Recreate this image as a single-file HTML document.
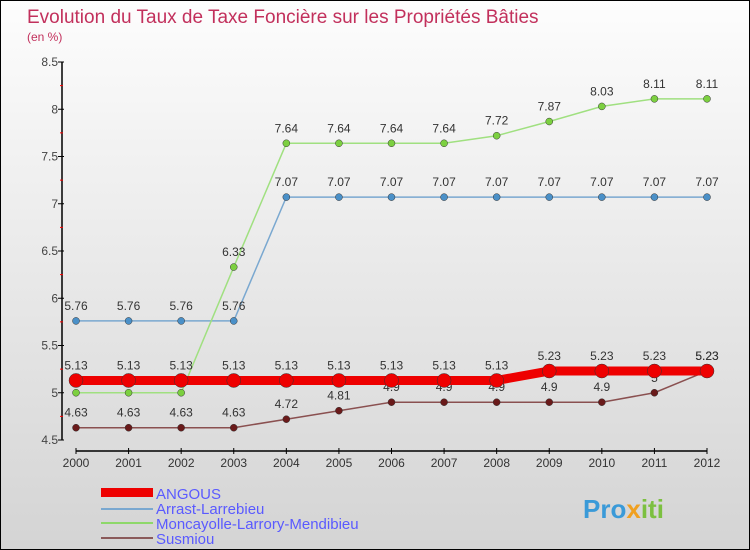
<!DOCTYPE html>
<html><head><meta charset="utf-8"><style>
body{margin:0}
#c{width:750px;height:550px;position:relative;overflow:hidden;box-sizing:border-box;border:1px solid #000;background:linear-gradient(#fdfdfd,#d4d4d4);font-family:"Liberation Sans",sans-serif}
</style></head><body>
<div id="c">
<svg id="s" width="750" height="550" style="position:absolute;left:0;top:0">
<text x="26" y="22" font-size="19" fill="#c2305c">Evolution du Taux de Taxe Foncière sur les Propriétés Bâties</text>
<text x="26" y="40" font-size="12" fill="#c2305c">(en %)</text>
<g id="ax"></g><g id="sr"></g>
<g>
<rect x="100" y="487" width="52" height="9" fill="#e00"/>
<text x="155" y="498" font-size="15" fill="#5a5aff">ANGOUS</text>
<rect x="100" y="507" width="52" height="2" fill="#7aa8d0"/>
<text x="155" y="513" font-size="15" fill="#5a5aff">Arrast-Larrebieu</text>
<rect x="100" y="521" width="52" height="2" fill="#8ed86a"/>
<text x="155" y="528" font-size="15" fill="#5a5aff">Moncayolle-Larrory-Mendibieu</text>
<rect x="100" y="536" width="52" height="2" fill="#8a5a5a"/>
<text x="155" y="543" font-size="15" fill="#5a5aff">Susmiou</text>
</g>
<text x="582" y="517" font-size="26" font-weight="bold" fill="#3a9ad8">Pro<tspan fill="#f0a020">x</tspan><tspan fill="#7cc040">iti</tspan></text>
</svg></div>
<script>
const years=[2000,2001,2002,2003,2004,2005,2006,2007,2008,2009,2010,2011,2012];
const yTicks=[4.5,5,5.5,6,6.5,7,7.5,8,8.5];
const angous=[5.13,5.13,5.13,5.13,5.13,5.13,5.13,5.13,5.13,5.23,5.23,5.23,5.23];
const arrast=[5.76,5.76,5.76,5.76,7.07,7.07,7.07,7.07,7.07,7.07,7.07,7.07,7.07];
const moncayolle=[5,5,5,6.33,7.64,7.64,7.64,7.64,7.72,7.87,8.03,8.11,8.11];
const susmiou=[4.63,4.63,4.63,4.63,4.72,4.81,4.9,4.9,4.9,4.9,4.9,5,5.23];
const NS='http://www.w3.org/2000/svg';
const X=i=>75+i*(631/12), Y=v=>439-(v-4.5)*94.5;
function mk(p,t,a){const e=document.createElementNS(NS,t);for(const k in a)e.setAttribute(k,a[k]);p.appendChild(e);return e;}
const ax=document.getElementById('ax'),sr=document.getElementById('sr');
let e=mk(ax,'line',{x1:61,y1:Y(8.5),x2:61,y2:Y(4.5),stroke:'#000','stroke-width':1.5});

e=mk(ax,'line',{x1:75,y1:450,x2:706,y2:450,stroke:'#000','stroke-width':1.5});

yTicks.forEach((v,i)=>{mk(ax,'line',{x1:57,y1:Y(v),x2:63,y2:Y(v),stroke:'#000'});
if(i<yTicks.length-1)mk(ax,'line',{x1:59,y1:Y(v+0.25),x2:62,y2:Y(v+0.25),stroke:'#f00'});
e=mk(ax,'text',{x:57,y:Y(v)+4,'font-size':12,fill:'#444','text-anchor':'end'});e.textContent=String(v);
});
years.forEach((y,i)=>{mk(ax,'line',{x1:X(i),y1:447,x2:X(i),y2:453,stroke:'#000'});
e=mk(ax,'text',{x:X(i),y:466,'font-size':12,fill:'#333','text-anchor':'middle'});e.textContent=y;
});
function series(d,name,col,w,r,dot,lab){
const g=mk(sr,'g',{});
let l=mk(g,'polyline',{points:d.map((v,i)=>X(i)+','+Y(v)).join(' '),fill:'none',stroke:col,'stroke-width':w});

d.forEach((v,i)=>{let c=mk(g,'circle',{cx:X(i),cy:Y(v),r:r,fill:dot,stroke:'#333','stroke-width':0.5});

if(lab){let t=mk(g,'text',{x:X(i),y:Y(v)-11,'font-size':12,fill:'#333','text-anchor':'middle'});t.textContent=String(v);
}});}
series(arrast,'arrast','#7aa8d0',1.5,3.5,'#4a90c8',true);
series(moncayolle,'moncayolle','#a0e080',1.5,3.5,'#7cd040',true);
series(susmiou,'susmiou','#8a5050',1.5,3.5,'#6a1a1a',true);
series(angous,'angous','#e00',9,7,'#e00',true);
</script></body></html>
